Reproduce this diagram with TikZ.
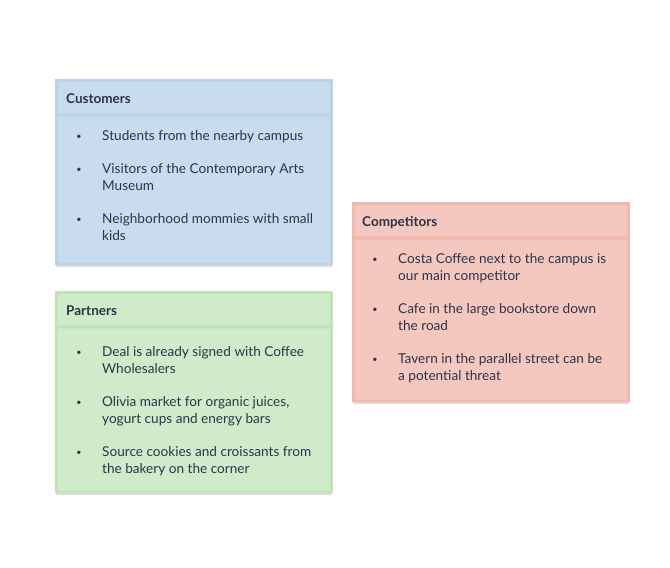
\documentclass[tikz,border=0pt]{standalone}
\usepackage{fontspec}
\setmainfont{Lato}
\usetikzlibrary{positioning}
\definecolor{ink}{HTML}{2E3349}
\definecolor{blueedge}{HTML}{BAD3EA}
\definecolor{bluefill}{HTML}{C9DCED}
\definecolor{greenedge}{HTML}{C0E4B8}
\definecolor{greenfill}{HTML}{D0EBCA}
\definecolor{rededge}{HTML}{F2B7AD}
\definecolor{redfill}{HTML}{F5C8BF}
\tikzset{
  card/.style={fill=#1edge, anchor=north west, inner sep=0, minimum width=278pt},
  shade/.style={fill=black!14, anchor=north west, inner sep=0, minimum width=276pt},
  panel/.style={fill=#1fill, anchor=north west, inner sep=0, minimum width=272pt, rounded corners=1pt},
  title/.style={anchor=base west, inner sep=0, text=ink, font=\fontsize{13.5}{17}\selectfont\bfseries},
  entry/.style={anchor=base west, inner sep=0, align=left, text=ink, font=\fontsize{13.6}{17}\selectfont},
  dot/.style={anchor=base, inner sep=0, text=ink, font=\fontsize{9}{17}\selectfont}
}

\begin{document}
\begin{tikzpicture}[x=1pt, y=-1pt]
  \useasboundingbox (0,0) rectangle (670,568);

  % customers
  \node[shade, minimum height=186pt] (custshade) at (56,80.5) {};
  \node[card=blue, minimum height=186pt] (cust) at (55,79) {};
  \node[panel=blue, minimum height=31pt] (custhead) at ([shift={(3,3)}]cust.north west) {};
  \node[panel=blue, minimum height=146pt] (custbody) at ([shift={(0,3)}]custhead.south west) {};
  \node[title] (custtitle) at (66,103.5) {Customers};
  % entries sit on the baseline of their last line
  \node[entry] (c1) at (102,140.5) {Students from the nearby campus};
  \node[entry] (c2) at (102,190.5) {Visitors of the Contemporary Arts\\Museum};
  \node[entry] (c3) at (102,240.5) {Neighborhood mommies with small\\kids};
  \node[dot] (cb1) at (79,139.5) {•};
  \node[dot] (cb2) at (79,172.5) {•};
  \node[dot] (cb3) at (79,222.5) {•};

  % partners
  \node[shade, minimum height=202pt] (partshade) at (56,292.5) {};
  \node[card=green, minimum height=202pt] (part) at (55,291) {};
  \node[panel=green, minimum height=31pt] (parthead) at ([shift={(3,3)}]part.north west) {};
  \node[panel=green, minimum height=162pt] (partbody) at ([shift={(0,3)}]parthead.south west) {};
  \node[title] (parttitle) at (66,315.5) {Partners};
  \node[entry] (p1) at (102,373.5) {Deal is already signed with Coffee\\Wholesalers};
  \node[entry] (p2) at (102,423.5) {Olivia market for organic juices,\\yogurt cups and energy bars};
  \node[entry] (p3) at (102,473.5) {Source cookies and croissants from\\the bakery on the corner};
  \node[dot] (pb1) at (79,355.5) {•};
  \node[dot] (pb2) at (79,405.5) {•};
  \node[dot] (pb3) at (79,455.5) {•};

  % competitors
  \node[shade, minimum height=200pt] (compshade) at (353,203.5) {};
  \node[card=red, minimum height=200pt] (comp) at (352,202) {};
  \node[panel=red, minimum height=31pt] (comphead) at ([shift={(3,3)}]comp.north west) {};
  \node[panel=red, minimum height=160pt] (compbody) at ([shift={(0,3)}]comphead.south west) {};
  \node[title] (comptitle) at (362,226.5) {Competitors};
  \node[entry] (k1) at (398,280.5) {Costa Coffee next to the campus is\\our main competitor};
  \node[entry] (k2) at (398,330.5) {Cafe in the large bookstore down\\the road};
  \node[entry] (k3) at (398,380.5) {Tavern in the parallel street can be\\a potential threat};
  \node[dot] (kb1) at (375,262.5) {•};
  \node[dot] (kb2) at (375,312.5) {•};
  \node[dot] (kb3) at (375,362.5) {•};
\end{tikzpicture}
\end{document}
